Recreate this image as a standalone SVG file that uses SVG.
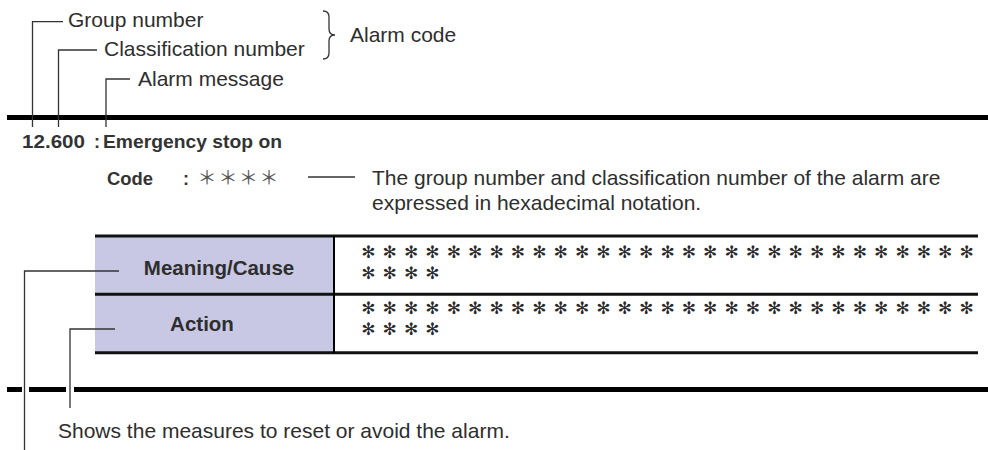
<svg xmlns="http://www.w3.org/2000/svg" width="988" height="450" viewBox="0 0 988 450">
  <style>
    .t { font-family: "Liberation Sans", Arial, sans-serif; font-size: 21px; fill: #2e2e2e; }
    .hb { font-family: "Liberation Sans", Arial, sans-serif; font-weight: bold; font-size: 18px; fill: #333; }
    .cell { font-family: "Liberation Sans", Arial, sans-serif; font-weight: bold; font-size: 20.5px; fill: #2e2e2e; text-anchor: middle; }
    .ast { font-family: "DejaVu Sans", sans-serif; font-size: 17px; fill: #2a2a2a; text-anchor: middle; }
    .astc { font-family: "Noto Sans CJK JP", sans-serif; font-size: 19px; fill: #555; text-anchor: middle; dominant-baseline: central; }
    .lead { stroke: #333; stroke-width: 1.3; fill: none; }
    .rule { stroke: #000; stroke-width: 5; fill: none; }
    .tl { stroke: #111; stroke-width: 3; fill: none; }
  </style>

  <g id="rules">
    <line class="rule" x1="7" y1="117.5" x2="988" y2="117.5"/>
    <line class="rule" x1="7" y1="389.5" x2="22" y2="389.5"/>
    <line class="rule" x1="29" y1="389.5" x2="66" y2="389.5"/>
    <line class="rule" x1="74" y1="389.5" x2="988" y2="389.5"/>
  </g>

  <g id="label-group-number">
    <text class="t" x="68" y="26.5">Group number</text>
  </g>
  <g id="label-classification-number">
    <text class="t" x="104" y="55.5">Classification number</text>
  </g>
  <g id="label-alarm-message">
    <text class="t" x="138" y="86">Alarm message</text>
  </g>
  <g id="label-alarm-code">
    <path class="lead" d="M323,11 Q329,11 329,17 L329,29 Q329,35 335,35 Q329,35 329,41 L329,53 Q329,59 323,59"/>
    <text class="t" x="350" y="42">Alarm code</text>
  </g>

  <g id="alarm-header">
    <text class="hb" x="22" y="148" textLength="63" lengthAdjust="spacingAndGlyphs">12.600</text>
    <text class="hb" x="94" y="148">:</text>
    <text class="hb" x="103" y="148" textLength="179" lengthAdjust="spacingAndGlyphs">Emergency stop on</text>
  </g>

  <g id="code">
    <text class="hb" x="107" y="185" textLength="46" lengthAdjust="spacingAndGlyphs">Code</text>
    <text class="hb" x="183" y="185">:</text>
    <text class="astc" x="207 228 248.5 269" y="176">＊＊＊＊</text>
  </g>

  <g id="code-note">
    <text class="t" x="372" y="185">The group number and classification number of the alarm are</text>
    <text class="t" x="372" y="210">expressed in hexadecimal notation.</text>
  </g>

  <g id="table">
    <rect x="95" y="236" width="239" height="117" fill="#c8c8e5"/>
    <line class="tl" x1="95" y1="236" x2="978" y2="236"/>
    <line class="tl" x1="95" y1="294.3" x2="978" y2="294.3"/>
    <line class="tl" x1="95" y1="352.7" x2="978" y2="352.7" stroke="#222"/>
    <line x1="334" y1="236" x2="334" y2="353" stroke="#000" stroke-width="2"/>
    <g id="row-meaning">
      <text class="cell" x="219" y="275">Meaning/Cause</text>
      <text class="ast" x="368.3 389.7 411.1 432.4 453.8 475.2 496.5 517.9 539.3 560.6 582 603.4 624.7 646.1 667.5 688.8 710.2 731.6 752.9 774.3 795.7 817 838.4 859.8 881.1 902.5 923.9 945.2 966.6" y="258">✻✻✻✻✻✻✻✻✻✻✻✻✻✻✻✻✻✻✻✻✻✻✻✻✻✻✻✻✻</text>
      <text class="ast" x="368.3 389.7 411.1 432.4" y="279">✻✻✻✻</text>
    </g>
    <g id="row-action">
      <text class="cell" x="202" y="331">Action</text>
      <text class="ast" x="368.3 389.7 411.1 432.4 453.8 475.2 496.5 517.9 539.3 560.6 582 603.4 624.7 646.1 667.5 688.8 710.2 731.6 752.9 774.3 795.7 817 838.4 859.8 881.1 902.5 923.9 945.2 966.6" y="314">✻✻✻✻✻✻✻✻✻✻✻✻✻✻✻✻✻✻✻✻✻✻✻✻✻✻✻✻✻</text>
      <text class="ast" x="368.3 389.7 411.1 432.4" y="335">✻✻✻✻</text>
    </g>
  </g>

  <g id="action-note">
    <text class="t" x="58" y="438">Shows the measures to reset or avoid the alarm.</text>
  </g>

  <g id="connectors">
    <polyline class="lead" points="63,21.7 32.5,21.7 32.5,127"/>
    <polyline class="lead" points="97,50 58.5,50 58.5,127"/>
    <polyline class="lead" points="130,79 106,79 106,127"/>
    <line class="lead" x1="308" y1="177" x2="355" y2="177"/>
    <polyline class="lead" points="119,271 24.5,271 24.5,450"/>
    <polyline class="lead" points="115,329 70,329 70,408"/>
  </g>
</svg>
